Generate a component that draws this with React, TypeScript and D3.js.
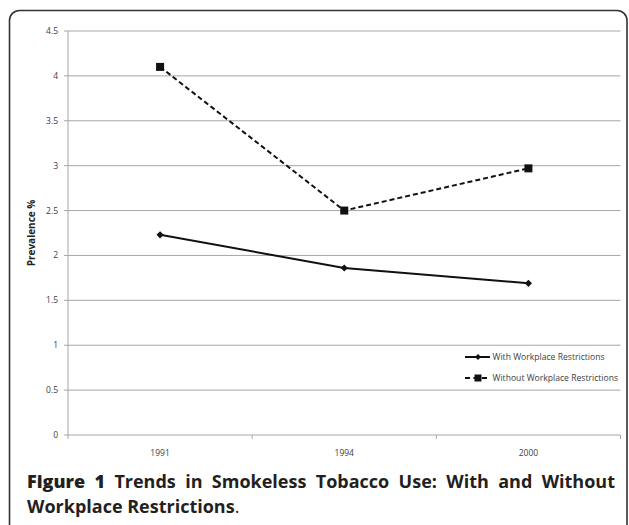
import React, { useEffect, useRef } from "react";
import * as d3 from "d3";

const categories = ["1991", "1994", "2000"];
const withRestrictions = [2.23, 1.86, 1.69];
const withoutRestrictions = [4.1, 2.5, 2.97];
const yTicks = [0, 0.5, 1, 1.5, 2, 2.5, 3, 3.5, 4, 4.5];
const seriesNames = ["With Workplace Restrictions", "Without Workplace Restrictions"];

const W = 629;
const H = 525;
const left = 68;
const right = 620.5;
const top = 31;
const bottom = 435;

export default function App() {
  const capRef = useRef<SVGTextElement>(null);

  const x = d3.scaleBand<string>().domain(categories).range([left, right]).padding(0);
  const y = d3.scaleLinear().domain([0, 4.5]).range([bottom, top]);
  const cx = (c: string) => (x(c) as number) + x.bandwidth() / 2;

  const line = d3
    .line<number>()
    .x((_, i) => cx(categories[i]))
    .y((d) => y(d));

  useEffect(() => {
    const el = capRef.current;
    if (!el) return;
    const target = 615 - 27;
    el.setAttribute("word-spacing", "0");
    const natural = el.getComputedTextLength();
    const txt = el.textContent || "";
    const spaces = (txt.match(/ /g) || []).length;
    if (spaces > 0) el.setAttribute("word-spacing", String(Math.max(0, (target - natural) / spaces)));
  }, []);

  const boundaries = [...categories.map((c) => x(c) as number), right];
  const font = "'Open Sans', 'Noto Sans', sans-serif";
  const lblColor = "#404040";

  const diamond = (px: number, py: number, s = 3.6) =>
    `M${px},${py - s}L${px + s},${py}L${px},${py + s}L${px - s},${py}Z`;

  return (
    <svg
      width={W}
      height={H}
      style={{ position: "absolute", left: 0, top: 0, display: "block", background: "#fff" }}
    >
      <rect x={9.5} y={10.5} width={617.5} height={525} rx={10} ry={10} fill="none" stroke="#333" strokeWidth={1.6} />
      {yTicks.map((t) => (
        <line key={"g" + t} x1={left} x2={right} y1={y(t)} y2={y(t)} stroke="#a6a6a6" strokeWidth={1} />
      ))}
      <line x1={left} x2={left} y1={top} y2={bottom} stroke="#a6a6a6" strokeWidth={1} />
      {yTicks.map((t) => (
        <g key={"yt" + t}>
          <line x1={left - 4} x2={left} y1={y(t)} y2={y(t)} stroke="#a6a6a6" />
          <text x={58} y={y(t)} dy="0.35em" textAnchor="end" fontSize={8.5} fill={lblColor} fontFamily={font}>
            {String(t)}
          </text>
        </g>
      ))}
      {boundaries.map((b, i) => (
        <line key={"xt" + i} x1={b} x2={b} y1={bottom} y2={bottom + 4} stroke="#a6a6a6" />
      ))}
      {categories.map((c) => (
        <text key={"xl" + c} x={cx(c)} y={455.5} textAnchor="middle" fontSize={8.5} fill={lblColor} fontFamily={font}>
          {c}
        </text>
      ))}
      <text
        transform={`translate(34.5,${(top + bottom) / 2}) rotate(-90)`}
        textAnchor="middle"
        fontSize={10}
        fontWeight={700}
        fill="#222"
        fontFamily={font}
      >
        Prevalence %
      </text>
      <path d={line(withRestrictions) || ""} fill="none" stroke="#111" strokeWidth={2} />
      <path d={line(withoutRestrictions) || ""} fill="none" stroke="#111" strokeWidth={2} strokeDasharray="5,3" />
      {withRestrictions.map((v, i) => (
        <path key={"d" + i} d={diamond(cx(categories[i]), y(v))} fill="#111" />
      ))}
      {withoutRestrictions.map((v, i) => (
        <rect key={"s" + i} x={cx(categories[i]) - 4} y={y(v) - 4} width={8} height={8} fill="#111" />
      ))}
      <g>
        <line x1={465} x2={490} y1={357} y2={357} stroke="#111" strokeWidth={2} />
        <path d={diamond(478, 357, 3)} fill="#111" />
        <text x={492.5} y={357} dy="0.35em" fontSize={8.6} fill={lblColor} fontFamily={font}>
          {seriesNames[0]}
        </text>
        <line x1={465} x2={490} y1={378} y2={378} stroke="#111" strokeWidth={2} strokeDasharray="5,3.5" />
        <rect x={474.5} y={374.5} width={7} height={7} fill="#111" />
        <text x={492.5} y={378} dy="0.35em" fontSize={8.6} fill={lblColor} fontFamily={font}>
          {seriesNames[1]}
        </text>
      </g>
      <text ref={capRef} x={27} y={488} fontSize={18} fontFamily={font} fill="#231f20" fontWeight={700}>
        <tspan fontWeight={800}>Figure 1</tspan> Trends in Smokeless Tobacco Use: With and Without
      </text>
      <text x={27} y={513} fontSize={18} fontFamily={font} fill="#231f20" fontWeight={700}>
        Workplace Restrictions<tspan fontWeight={400}>.</tspan>
      </text>
    </svg>
  );
}
